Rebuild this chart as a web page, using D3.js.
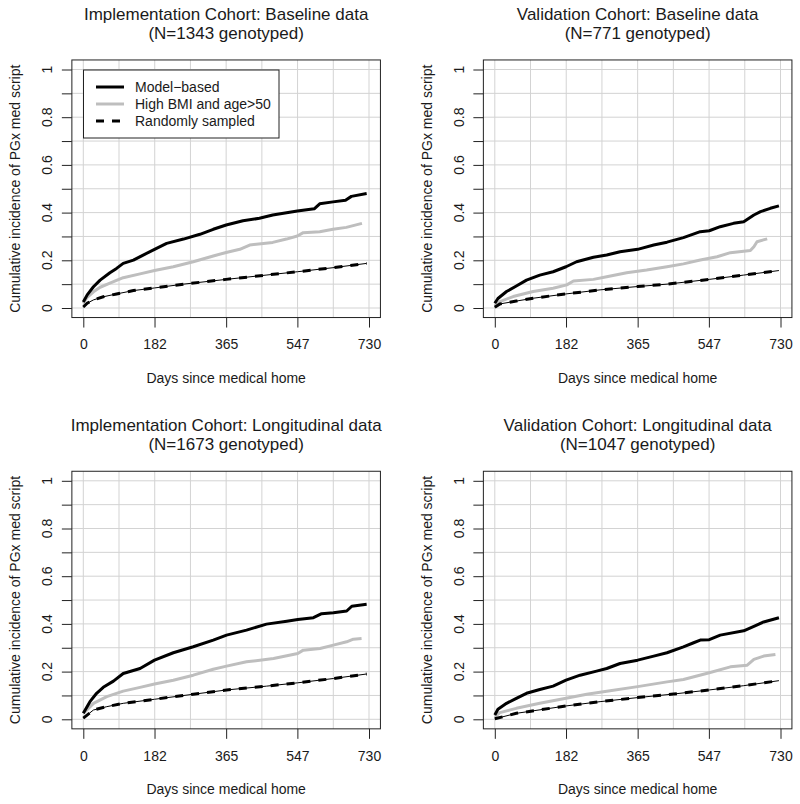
<!DOCTYPE html>
<html>
<head>
<meta charset="utf-8">
<script src="https://cdn.jsdelivr.net/npm/d3@7"></script>
<style>
  body { margin: 0; background: #fff; }
  svg { display: block; }
  text { font-family: "Liberation Sans", Arial, Helvetica, sans-serif; fill: #1a1a1a; }
</style>
</head>
<body>
<svg id="chart" width="800" height="804"></svg>
<script>
// ---------- DATA ----------
const titles = [
  ["Implementation Cohort: Baseline data", "(N=1343 genotyped)"],
  ["Validation Cohort: Baseline data", "(N=771 genotyped)"],
  ["Implementation Cohort: Longitudinal data", "(N=1673 genotyped)"],
  ["Validation Cohort: Longitudinal data", "(N=1047 genotyped)"]
];
const seriesNames = ["Model\u2212based", "High BMI and age>50", "Randomly sampled"];
const xTicks = [0, 182, 365, 547, 730];
const yTicks = [0, 0.1, 0.2, 0.3, 0.4, 0.5, 0.6, 0.7, 0.8, 0.9, 1];
const yTickLabels = ["0", "", "0.2", "", "0.4", "", "0.6", "", "0.8", "", "1"];
const gridX = [0, 91.25, 182.5, 273.75, 365, 456.25, 547.5, 638.75, 730];
const xLabel = "Days since medical home";
const yLabel = "Cumulative incidence of PGx med script";

// Implementation cohort, baseline
const implBaseModel = [[0,0.025],[10,0.055],[26,0.089],[43,0.117],[68,0.148],[85,0.166],[102,0.187],[128,0.201],[153,0.222],[182,0.246],[213,0.271],[256,0.289],[298,0.309],[332,0.33],[365,0.348],[408,0.366],[450,0.376],[484,0.39],[547,0.407],[590,0.416],[604,0.437],[638,0.445],[670,0.452],[685,0.468],[724,0.48]];
const implBaseBMI = [[0,0.02],[10,0.045],[26,0.068],[43,0.087],[68,0.104],[102,0.127],[145,0.143],[182,0.157],[230,0.173],[281,0.194],[332,0.218],[365,0.233],[400,0.246],[425,0.264],[484,0.275],[519,0.289],[547,0.302],[562,0.316],[604,0.32],[638,0.33],[672,0.338],[712,0.355]];
const implBaseRandom = [[0,0.004],[10,0.02],[26,0.034],[51,0.047],[85,0.059],[128,0.073],[182,0.084],[256,0.1],[365,0.12],[467,0.138],[547,0.152],[638,0.169],[724,0.187]];

// Validation cohort, baseline
const validBaseModel = [[0,0.02],[8,0.04],[30,0.069],[55,0.092],[81,0.117],[115,0.138],[149,0.152],[182,0.173],[209,0.194],[252,0.213],[286,0.222],[320,0.236],[365,0.246],[406,0.264],[440,0.276],[482,0.295],[525,0.32],[548,0.324],[576,0.341],[610,0.355],[636,0.362],[662,0.39],[679,0.404],[704,0.418],[726,0.428]];
const validBaseBMI = [[0,0.008],[13,0.027],[47,0.048],[98,0.069],[149,0.083],[184,0.097],[201,0.113],[252,0.12],[286,0.131],[337,0.148],[388,0.159],[440,0.173],[482,0.185],[525,0.201],[568,0.215],[602,0.232],[653,0.241],[662,0.257],[670,0.278],[696,0.29]];
const validBaseRandom = [[0,0.003],[13,0.017],[55,0.029],[98,0.041],[182,0.059],[269,0.076],[365,0.09],[440,0.1],[548,0.12],[636,0.138],[726,0.157]];

// Implementation cohort, longitudinal
const implLongModel = [[0,0.025],[17,0.074],[34,0.109],[51,0.134],[77,0.16],[102,0.192],[145,0.213],[182,0.248],[230,0.279],[281,0.304],[332,0.332],[366,0.353],[417,0.374],[468,0.399],[520,0.411],[548,0.418],[588,0.426],[609,0.443],[639,0.447],[673,0.454],[686,0.474],[724,0.482]];
const implLongBMI = [[0,0.025],[26,0.067],[60,0.095],[102,0.118],[145,0.134],[182,0.148],[230,0.164],[281,0.185],[332,0.21],[366,0.223],[417,0.241],[486,0.255],[548,0.276],[562,0.29],[605,0.297],[639,0.311],[673,0.325],[690,0.336],[711,0.339]];
const implLongRandom = [[0,0.005],[26,0.039],[60,0.053],[102,0.067],[182,0.084],[281,0.105],[366,0.123],[468,0.139],[548,0.153],[639,0.171],[724,0.19]];

// Validation cohort, longitudinal
const validLongModel = [[0,0.018],[8,0.042],[30,0.067],[55,0.088],[81,0.109],[115,0.125],[149,0.139],[182,0.164],[218,0.185],[260,0.202],[286,0.213],[320,0.234],[365,0.248],[406,0.265],[440,0.279],[482,0.304],[508,0.321],[525,0.332],[548,0.334],[576,0.353],[636,0.371],[662,0.39],[687,0.408],[726,0.426]];
const validLongBMI = [[0,0.01],[13,0.028],[55,0.046],[115,0.067],[182,0.088],[235,0.105],[286,0.118],[365,0.137],[440,0.157],[482,0.167],[548,0.195],[602,0.22],[645,0.227],[662,0.251],[687,0.265],[717,0.272]];
const validLongRandom = [[0,0.002],[55,0.025],[182,0.056],[269,0.074],[365,0.091],[457,0.106],[548,0.123],[636,0.141],[726,0.162]];

const panelSeries = [
  [implBaseModel, implBaseBMI, implBaseRandom],
  [validBaseModel, validBaseBMI, validBaseRandom],
  [implLongModel, implLongBMI, implLongRandom],
  [validLongModel, validLongBMI, validLongRandom]
];

// ---------- LAYOUT ----------
const svg = d3.select("#chart");
const panelOrigins = [[0, 0], [411.5, 0], [0, 411.3], [411.5, 411.3]];
const xRange = [83.3, 369];
const yRange = [308, 69.5];
const pad = 0.04;

panelOrigins.forEach((o, i) => {
  const g = svg.append("g").attr("transform", `translate(${o[0]},${o[1]})`);
  const x = d3.scaleLinear().domain([0, 730]).range(xRange);
  const y = d3.scaleLinear().domain([0, 1]).range(yRange);
  const bx0 = x(-730 * pad), bx1 = x(730 * (1 + pad));
  const by0 = y(1 + pad), by1 = y(-pad);

  // grid
  g.append("g").selectAll("line.gx").data(gridX).join("line")
    .attr("x1", d => x(d)).attr("x2", d => x(d))
    .attr("y1", by0).attr("y2", by1)
    .attr("stroke", "#d3d3d3").attr("stroke-width", 1);
  g.append("g").selectAll("line.gy").data(yTicks).join("line")
    .attr("x1", bx0).attr("x2", bx1)
    .attr("y1", d => y(d)).attr("y2", d => y(d))
    .attr("stroke", "#d3d3d3").attr("stroke-width", 1);

  // axes
  const xa = g.append("g").attr("transform", `translate(0,${by1})`)
    .call(d3.axisBottom(x).tickValues(xTicks).tickSize(10).tickPadding(12).tickFormat(d3.format("d")));
  xa.select(".domain").remove();
  xa.selectAll("line").attr("stroke", "#222");
  xa.selectAll("text").attr("font-size", 14).attr("fill", "#1a1a1a")
    .attr("font-family", "Liberation Sans, Arial, sans-serif");

  const ya = g.append("g").attr("transform", `translate(${bx0},0)`)
    .call(d3.axisLeft(y).tickValues(yTicks).tickSize(10).tickFormat(""));
  ya.select(".domain").remove();
  ya.selectAll("line").attr("stroke", "#222");
  g.append("g").selectAll("text").data(yTicks).join("text")
    .attr("transform", d => `translate(52,${y(d)}) rotate(-90)`)
    .attr("text-anchor", "middle").attr("font-size", 14)
    .text((d, k) => yTickLabels[k]);

  // box
  g.append("rect").attr("x", bx0).attr("y", by0)
    .attr("width", bx1 - bx0).attr("height", by1 - by0)
    .attr("fill", "none").attr("stroke", "#222").attr("stroke-width", 1);

  // lines
  const line = d3.line().x(d => x(d[0])).y(d => y(d[1]));
  const s = panelSeries[i];
  g.append("path").datum(s[1]).attr("d", line).attr("fill", "none")
    .attr("stroke", "#bebebe").attr("stroke-width", 3).attr("stroke-linejoin", "round");
  g.append("path").datum(s[2]).attr("d", line).attr("fill", "none")
    .attr("stroke", "#000").attr("stroke-width", 1);
  g.append("path").datum(s[2]).attr("d", line).attr("fill", "none")
    .attr("stroke", "#000").attr("stroke-width", 3).attr("stroke-dasharray", "8,8");
  g.append("path").datum(s[0]).attr("d", line).attr("fill", "none")
    .attr("stroke", "#000").attr("stroke-width", 3).attr("stroke-linejoin", "round");

  // titles
  const cx = (bx0 + bx1) / 2;
  g.append("text").attr("x", cx).attr("y", 19.5).attr("text-anchor", "middle")
    .attr("font-size", 17).text(titles[i][0]);
  g.append("text").attr("x", cx).attr("y", 39).attr("text-anchor", "middle")
    .attr("font-size", 17).text(titles[i][1]);

  // axis labels
  g.append("text").attr("x", cx).attr("y", 383).attr("text-anchor", "middle")
    .attr("font-size", 14).text(xLabel);
  g.append("text").attr("transform", `translate(20,${(by0 + by1) / 2}) rotate(-90)`)
    .attr("text-anchor", "middle").attr("font-size", 14).text(yLabel);

  // legend
  if (i === 0) {
    const lg = g.append("g");
    lg.append("rect").attr("x", 83.5).attr("y", 70).attr("width", 195.5).attr("height", 68)
      .attr("fill", "#fff").attr("stroke", "#222").attr("stroke-width", 1);
    const styles = [
      {c: "#000", dash: null},
      {c: "#bebebe", dash: null},
      {c: "#000", dash: "8,8"}
    ];
    seriesNames.forEach((nm, k) => {
      const yy = 87 + k * 17;
      const ln = lg.append("line").attr("x1", 96).attr("x2", 124)
        .attr("y1", yy).attr("y2", yy)
        .attr("stroke", styles[k].c).attr("stroke-width", 3);
      if (styles[k].dash) ln.attr("stroke-dasharray", styles[k].dash);
      lg.append("text").attr("x", 135).attr("y", yy + 5).attr("font-size", 14).text(nm);
    });
  }
});
</script>
</body>
</html>
